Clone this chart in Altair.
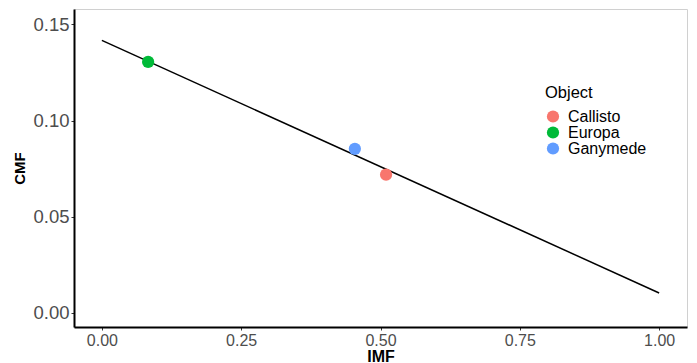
import altair as alt
import pandas as pd

objects = ["Callisto", "Europa", "Ganymede"]
imf = [0.51, 0.083, 0.454]
cmf = [0.0719, 0.1305, 0.0853]

line_imf = [0.0, 1.0]
line_cmf = [0.1417, 0.0104]

colors = ["#F8766D", "#00BA38", "#619CFF"]

pts = pd.DataFrame({"Object": objects, "IMF": imf, "CMF": cmf})
ln = pd.DataFrame({"IMF": line_imf, "CMF": line_cmf})

FONT = "Liberation Sans"

xscale = alt.Scale(domain=[-0.05, 1.05], nice=False, zero=False)
yscale = alt.Scale(domain=[-0.0073, 0.158], nice=False, zero=False)

xaxis = alt.Axis(values=[0, 0.25, 0.5, 0.75, 1.0], format=".2f", title="IMF",
                 grid=False, domainColor="black", domainWidth=2, tickColor="#333333",
                 tickSize=3, labelColor="#4d4d4d", labelFontSize=16, labelPadding=2,
                 titleFontSize=16, titleFontWeight="bold", titleColor="black",
                 titleY=34, titleBaseline="alphabetic",
                 labelFont=FONT, titleFont=FONT)
yaxis = alt.Axis(values=[0, 0.05, 0.10, 0.15], format=".2f", title="CMF",
                 grid=False, domainColor="black", domainWidth=2, tickColor="#333333",
                 tickSize=3, labelColor="#4d4d4d", labelFontSize=18.5, labelPadding=2,
                 titleFontSize=15, titleFontWeight="bold", titleColor="black",
                 titleX=-54.5, titleY=159, titleAngle=270, titleBaseline="middle",
                 titleAlign="center",
                 labelFont=FONT, titleFont=FONT)

line = alt.Chart(ln).mark_line(color="black", strokeWidth=1.5).encode(
    x=alt.X("IMF:Q", scale=xscale, axis=xaxis),
    y=alt.Y("CMF:Q", scale=yscale, axis=yaxis),
)

points = alt.Chart(pts).mark_circle(size=150, opacity=1).encode(
    x=alt.X("IMF:Q", scale=xscale, axis=xaxis),
    y=alt.Y("CMF:Q", scale=yscale, axis=yaxis),
    color=alt.Color("Object:N", scale=alt.Scale(domain=objects, range=colors),
                    legend=alt.Legend(title="Object", orient="none", legendX=471, legendY=76,
                                      titleFontSize=16.5, titleFontWeight="normal", titleColor="black",
                                      labelFontSize=16, labelColor="black", symbolSize=150,
                                      symbolType="circle", rowPadding=-0.5, titlePadding=7,
                                      labelOffset=7, padding=0,
                                      titleFont=FONT, labelFont=FONT)),
)

chart = alt.layer(line, points).properties(
    width=613, height=318,
    autosize=alt.AutoSizeParams(type="none"),
    padding={"left": 66, "top": 1, "right": 2, "bottom": 36},
).configure_view(stroke="#d0d0d0", strokeWidth=1)

chart.save("out.html", embed_options={"renderer": "svg", "actions": False})
